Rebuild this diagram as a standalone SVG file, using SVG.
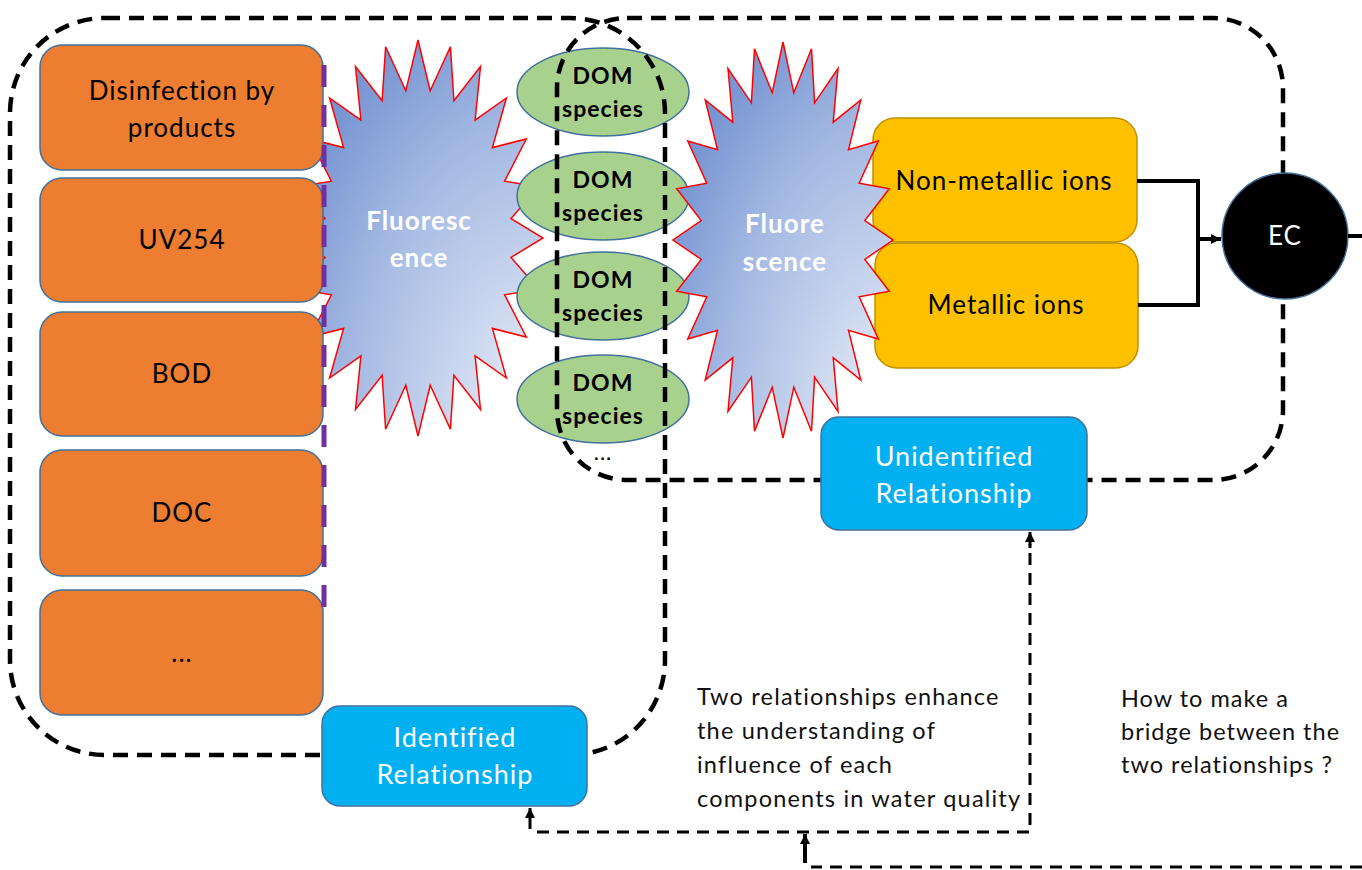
<svg xmlns="http://www.w3.org/2000/svg" width="1362" height="870" viewBox="0 0 1362 870">
<style>
text{font-family:Lato,"Open Sans","Liberation Sans",sans-serif;letter-spacing:1px}
.ob{fill:#ED7D31;stroke:#41719C;stroke-width:1.5}
.gr{fill:#A9D18E;stroke:#41719C;stroke-width:1.5}
.yb{fill:#FFC000;stroke:#BF9000;stroke-width:1.5}
.bb{fill:#00B0F0;stroke:#41719C;stroke-width:1.5}
.star{stroke:#FF0000;stroke-width:1.5}
.lbl{font-size:26px;fill:#000;text-anchor:middle}
.dom{font-size:23px;font-weight:bold;fill:#000;text-anchor:middle}
.st{font-size:26px;font-weight:bold;fill:#fff;text-anchor:middle}
.wt{font-size:27px;fill:#fff;text-anchor:middle}
.note{font-size:23.5px;fill:#111}
.bound{fill:none;stroke:#000;stroke-width:4.5;stroke-dasharray:15 9}
.thin{fill:none;stroke:#000;stroke-width:3;stroke-dasharray:12 8}
.solid{fill:none;stroke:#000;stroke-width:4}
</style>
<defs>
<radialGradient id="sg" cx="1" cy="1" r="1.45" gradientUnits="objectBoundingBox">
<stop offset="0" stop-color="#EFF3FA"/>
<stop offset="0.55" stop-color="#A3B8E2"/>
<stop offset="1" stop-color="#5479C6"/>
</radialGradient>
<marker id="arr" viewBox="0 0 10 10" refX="10" refY="5" markerWidth="10" markerHeight="10" orient="auto" markerUnits="userSpaceOnUse">
<path d="M0,0 L10,5 L0,10 z" fill="#000"/>
</marker>
</defs>

<g id="fluorescence1">
<polygon class="star" fill="url(#sg)" points="418,40 430.2,90.8 450.4,46.7 453.9,100.8 480.5,66.5 475.1,120.2 506.4,98 492.4,147.6 526.3,139 504.6,181.2 538.7,186.8 511,218.6 543,238 511,257.4 538.7,289.2 504.6,294.8 526.3,337 492.4,328.4 506.4,378 475.1,355.8 480.5,409.5 453.9,375.2 450.4,429.3 430.2,385.2 418,436 405.8,385.2 385.6,429.3 382.1,375.2 355.5,409.5 360.9,355.8 329.6,378 343.6,328.4 309.7,337 331.4,294.8 297.3,289.2 325,257.4 293,238 325,218.6 297.3,186.8 331.4,181.2 309.7,139 343.6,147.6 329.6,98 360.9,120.2 355.5,66.5 382.1,100.8 385.6,46.7 405.8,90.8"/>
<text class="st" x="419" y="230">Fluoresc</text>
<text class="st" x="419" y="267">ence</text>
</g>

<g id="dbp"><rect class="ob" x="40" y="45" width="283" height="125" rx="22"/>
<text class="lbl" x="182" y="100">Disinfection by</text><text class="lbl" x="182" y="137">products</text></g>
<g id="uv254"><rect class="ob" x="40" y="178" width="283" height="124" rx="22"/><text class="lbl" x="182" y="249">UV254</text></g>
<g id="bod"><rect class="ob" x="40" y="312" width="283" height="124" rx="22"/><text class="lbl" x="182" y="383">BOD</text></g>
<g id="doc"><rect class="ob" x="40" y="450" width="283" height="126" rx="22"/><text class="lbl" x="182" y="522">DOC</text></g>
<g id="more"><rect class="ob" x="40" y="590" width="283" height="125" rx="22"/><text class="lbl" x="182" y="662">...</text></g>

<g id="purple-line"><path d="M324,65 V620" fill="none" stroke="#7030A0" stroke-width="5" stroke-dasharray="22 18"/></g>

<g id="dom1"><ellipse class="gr" cx="603" cy="92" rx="86" ry="44"/><text class="dom" x="603" y="84">DOM</text><text class="dom" x="603" y="117">species</text></g>
<g id="dom2"><ellipse class="gr" cx="603" cy="196" rx="86" ry="44"/><text class="dom" x="603" y="188">DOM</text><text class="dom" x="603" y="221">species</text></g>
<g id="dom3"><ellipse class="gr" cx="603" cy="296" rx="86" ry="44"/><text class="dom" x="603" y="288">DOM</text><text class="dom" x="603" y="321">species</text></g>
<g id="dom4"><ellipse class="gr" cx="603" cy="399" rx="86" ry="44"/><text class="dom" x="603" y="391">DOM</text><text class="dom" x="603" y="424">species</text></g>
<g id="dom-more"><text class="dom" x="603" y="460" style="font-weight:normal;font-size:22px">...</text></g>

<g id="nonmetallic"><rect class="yb" x="873" y="118" width="264" height="124" rx="22"/><text class="lbl" x="1004" y="190">Non-metallic ions</text></g>
<g id="metallic"><rect class="yb" x="875" y="243" width="263" height="125" rx="22"/><text class="lbl" x="1006" y="314">Metallic ions</text></g>

<g id="fluorescence2">
<polygon class="star" fill="url(#sg)" points="783,42 793.8,92.8 811.5,48.8 814.6,102.8 838,68.5 833.2,122.2 860.8,100 848.5,149.6 878.3,141 859.2,183.2 889.3,188.8 864.8,220.6 893,240 864.8,259.4 889.3,291.3 859.2,296.8 878.3,339 848.5,330.4 860.8,380 833.2,357.8 838,411.5 814.6,377.2 811.5,431.3 793.8,387.2 783,438 772.2,387.2 754.5,431.3 751.4,377.2 728,411.5 732.8,357.8 705.2,380 717.5,330.4 687.7,339 706.8,296.8 676.7,291.3 701.2,259.4 673,240 701.2,220.6 676.7,188.8 706.8,183.2 687.7,141 717.5,149.6 705.2,100 732.8,122.2 728,68.5 751.4,102.8 754.5,48.8 772.2,92.8"/>
<text class="st" x="785" y="233">Fluore</text>
<text class="st" x="785" y="271">scence</text>
</g>

<g id="groups">
<rect class="bound" x="10" y="18" width="655" height="737" rx="95"/>
<rect class="bound" x="557" y="18" width="726" height="462" rx="70"/>
</g>

<g id="identified"><rect class="bb" x="322" y="706" width="265" height="100" rx="18"/><text class="wt" x="455" y="747">Identified</text><text class="wt" x="455" y="784">Relationship</text></g>
<g id="unidentified"><rect class="bb" x="821" y="417" width="266" height="113" rx="18"/><text class="wt" x="954" y="466">Unidentified</text><text class="wt" x="954" y="503">Relationship</text></g>

<g id="ec"><circle cx="1285" cy="236" r="63" fill="#000" stroke="#41719C" stroke-width="1.5"/><text x="1285" y="245" style="font-size:26px;fill:#fff;text-anchor:middle">EC</text></g>

<g id="connectors">
<path class="solid" d="M1137,181 H1198 V305 H1138"/>
<path class="solid" d="M1198,239 H1221" marker-end="url(#arr)"/>
<path class="solid" d="M1348,236 H1362"/>
<path class="thin" d="M537,832 H1030 V544"/>
<path d="M1030,548 V532" fill="none" stroke="#000" stroke-width="3" marker-end="url(#arr)"/>
<path d="M530,829 V808" fill="none" stroke="#000" stroke-width="3" marker-end="url(#arr)"/>
<path class="thin" d="M1362,867 H811"/>
<path d="M805,863 V834" fill="none" stroke="#000" stroke-width="4" marker-end="url(#arr)"/>
</g>

<g id="notes">
<text class="note" x="697" y="705" style="letter-spacing:1.2px">Two relationships enhance</text>
<text class="note" x="697" y="739" style="letter-spacing:1.2px">the understanding of</text>
<text class="note" x="697" y="773" style="letter-spacing:1.2px">influence of each</text>
<text class="note" x="697" y="807" style="letter-spacing:1.2px">components in water quality</text>
<text class="note" x="1121" y="707">How to make a</text>
<text class="note" x="1121" y="740">bridge between the</text>
<text class="note" x="1121" y="773">two relationships ?</text>
</g>
</svg>
